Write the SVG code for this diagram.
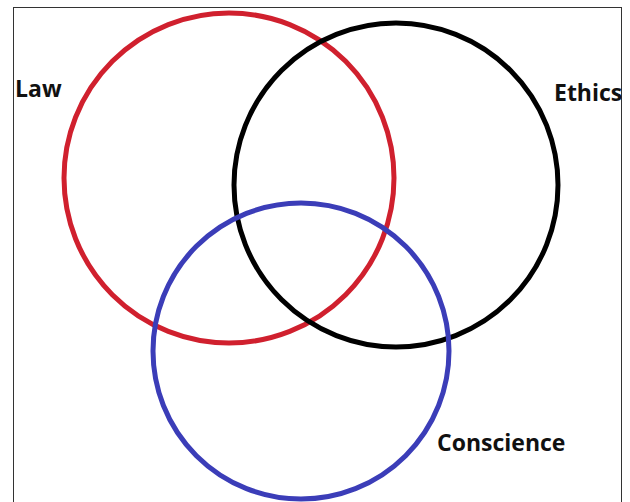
<svg xmlns="http://www.w3.org/2000/svg" width="630" height="502" viewBox="0 0 630 502">
<style>
.c{fill:none;stroke-width:5}
.t{font-family:"Open Sans","Liberation Sans",sans-serif;font-weight:bold;font-size:23px;fill:#111}
</style>
<rect x="0" y="0" width="630" height="502" fill="#fff"/>
<rect x="13.5" y="7.5" width="608" height="500" fill="none" stroke="#333" stroke-width="1"/>
<g id="law">
<circle class="c" cx="229" cy="178" r="165" stroke="#d0202e"/>
<text class="t" x="15" y="97">Law</text>
</g>
<g id="ethics">
<circle class="c" cx="396" cy="185" r="162" stroke="#000"/>
<text class="t" x="554" y="101">Ethics</text>
</g>
<g id="conscience">
<circle class="c" cx="301" cy="351" r="148" stroke="#3b3db8"/>
<text class="t" x="437" y="451">Conscience</text>
</g>
<g id="connectors"/>
</svg>
